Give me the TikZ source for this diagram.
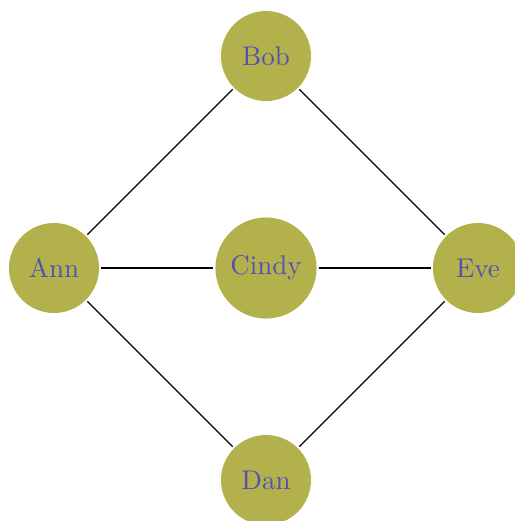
\documentclass[tikz,border=0pt]{standalone}
\definecolor{nodefill}{RGB}{179,177,75}
\definecolor{nodetext}{RGB}{84,80,176}
\begin{document}
\begin{tikzpicture}[x=0.37pt,y=-0.37pt,
  person/.style={circle,fill=nodefill,text=nodetext,minimum size=33.3pt,inner sep=0pt,outer sep=0.8pt},
  link/.style={line width=0.5pt,black}]
\useasboundingbox (0,0) rectangle (514,521);
\node[person] (bob) at (266,56) {Bob};
\node[person] (ann) at (54,268) {Ann};
\node[person,minimum size=37.4pt] (cindy) at (266,268) {Cindy};
\node[person] (eve) at (478,268) {Eve};
\node[person] (dan) at (266,480) {Dan};
\draw[link] (ann) -- (bob);
\draw[link] (ann) -- (cindy);
\draw[link] (ann) -- (dan);
\draw[link] (bob) -- (eve);
\draw[link] (cindy) -- (eve);
\draw[link] (dan) -- (eve);
\end{tikzpicture}
\end{document}
